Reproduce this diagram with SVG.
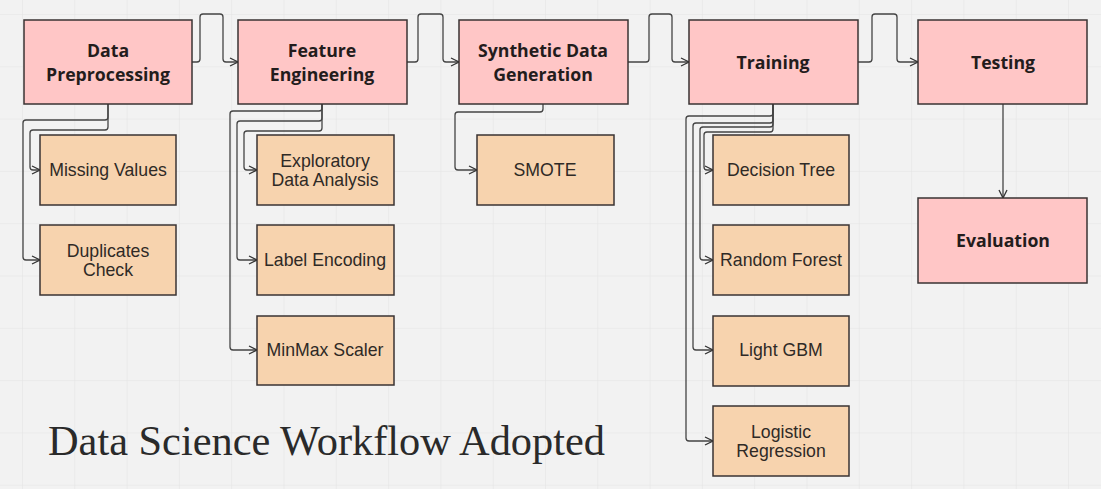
<svg xmlns="http://www.w3.org/2000/svg" width="1101" height="489" viewBox="0 0 1101 489">
<defs>
<pattern id="grid" x="22" y="14" width="52.3" height="52.3" patternUnits="userSpaceOnUse">
<path d="M0 0H52.3M0 0V52.3" fill="none" stroke="#e4e4e4" stroke-width="1.2"/>
</pattern>
<marker id="arr" viewBox="0 0 10 10" refX="9" refY="5" markerWidth="10" markerHeight="10" markerUnits="userSpaceOnUse" orient="auto">
<path d="M1 1L9 5L1 9" fill="none" stroke="#333" stroke-width="1.3"/>
</marker>
</defs>
<style>
.main rect{fill:#ffc6c6;stroke:#3a3333;stroke-width:1.5}
.sub rect{fill:#f7d3ae;stroke:#3a3333;stroke-width:1.5}
.main text{font-family:"Open Sans","Noto Sans",sans-serif;font-weight:bold;font-size:17.7px;fill:#231c1c;text-anchor:middle}
.sub text{font-family:"Liberation Sans",Arial,sans-serif;font-size:17.7px;fill:#2f2a26;text-anchor:middle}
#connectors path{fill:none;stroke:#444;stroke-width:1.3;stroke-linejoin:round;marker-end:url(#arr)}
.title{font-family:"Liberation Serif","Times New Roman",serif;font-size:42px;fill:#2a2a2a}
</style>
<rect width="1101" height="489" fill="#f2f2f2"/>
<rect width="1101" height="489" fill="url(#grid)"/>

<g id="connectors">
<path d="M192 62H197Q200 62 200 59V17Q200 14 203 14H220Q223 14 223 17V59Q223 62 226 62H238"/>
<path d="M407 62H415Q418 62 418 59V17Q418 14 421 14H440Q443 14 443 17V59Q443 62 446 62H459"/>
<path d="M628 62H646Q649 62 649 59V17Q649 14 652 14H669Q672 14 672 17V59Q672 62 675 62H689"/>
<path d="M858 62H869Q872 62 872 59V17Q872 14 875 14H894Q897 14 897 17V59Q897 62 900 62H918"/>
<path d="M1003 104V198"/>
<path d="M108 104V127Q108 130 105 130H33Q30 130 30 133V167Q30 170 33 170H40"/>
<path d="M108 104V117Q108 120 105 120H26Q23 120 23 123V257Q23 260 26 260H40"/>
<path d="M322 104V128Q322 131 319 131H247Q244 131 244 134V167Q244 170 247 170H257"/>
<path d="M322 104V118Q322 121 319 121H240Q237 121 237 124V257Q237 260 240 260H257"/>
<path d="M322 104V108Q322 111 319 111H233Q230 111 230 114V347Q230 350 233 350H257"/>
<path d="M543 104V109Q543 112 540 112H458Q455 112 455 115V167Q455 170 458 170H477"/>
<path d="M773 104V129Q773 132 770 132H707Q704 132 704 135V167Q704 170 707 170H713"/>
<path d="M773 104V124Q773 127 770 127H703Q700 127 700 130V257Q700 260 703 260H713"/>
<path d="M773 104V120Q773 123 770 123H696Q693 123 693 126V347Q693 350 696 350H713"/>
<path d="M773 104V113Q773 116 770 116H689Q686 116 686 119V438Q686 441 689 441H713"/>
</g>

<g id="data-preprocessing" class="main"><rect x="24" y="20" width="168" height="84"/><text x="108" y="57">Data</text><text x="108" y="81">Preprocessing</text></g>
<g id="feature-engineering" class="main"><rect x="238" y="20" width="169" height="84"/><text x="322" y="57">Feature</text><text x="322" y="81">Engineering</text></g>
<g id="synthetic-data-generation" class="main"><rect x="459" y="20" width="169" height="84"/><text x="543" y="57">Synthetic Data</text><text x="543" y="81">Generation</text></g>
<g id="training" class="main"><rect x="689" y="20" width="169" height="84"/><text x="773" y="69">Training</text></g>
<g id="testing" class="main"><rect x="918" y="20" width="169" height="84"/><text x="1003" y="69">Testing</text></g>
<g id="evaluation" class="main"><rect x="918" y="198" width="169" height="85"/><text x="1003" y="247">Evaluation</text></g>

<g id="missing-values" class="sub"><rect x="40" y="135" width="136" height="70"/><text x="108" y="176">Missing Values</text></g>
<g id="duplicates-check" class="sub"><rect x="40" y="225" width="136" height="70"/><text x="108" y="257">Duplicates</text><text x="108" y="276">Check</text></g>
<g id="eda" class="sub"><rect x="257" y="135" width="137" height="70"/><text x="325" y="167">Exploratory</text><text x="325" y="186">Data Analysis</text></g>
<g id="label-encoding" class="sub"><rect x="257" y="225" width="137" height="70"/><text x="325" y="266">Label Encoding</text></g>
<g id="minmax-scaler" class="sub"><rect x="257" y="316" width="137" height="69"/><text x="325" y="356">MinMax Scaler</text></g>
<g id="smote" class="sub"><rect x="477" y="135" width="137" height="70"/><text x="545" y="176">SMOTE</text></g>
<g id="decision-tree" class="sub"><rect x="713" y="135" width="136" height="70"/><text x="781" y="176">Decision Tree</text></g>
<g id="random-forest" class="sub"><rect x="713" y="225" width="136" height="70"/><text x="781" y="266">Random Forest</text></g>
<g id="light-gbm" class="sub"><rect x="713" y="316" width="136" height="70"/><text x="781" y="356">Light GBM</text></g>
<g id="logistic-regression" class="sub"><rect x="713" y="406" width="136" height="70"/><text x="781" y="438">Logistic</text><text x="781" y="457">Regression</text></g>

<text class="title" x="48" y="455" textLength="557" lengthAdjust="spacingAndGlyphs">Data Science Workflow Adopted</text>
</svg>
